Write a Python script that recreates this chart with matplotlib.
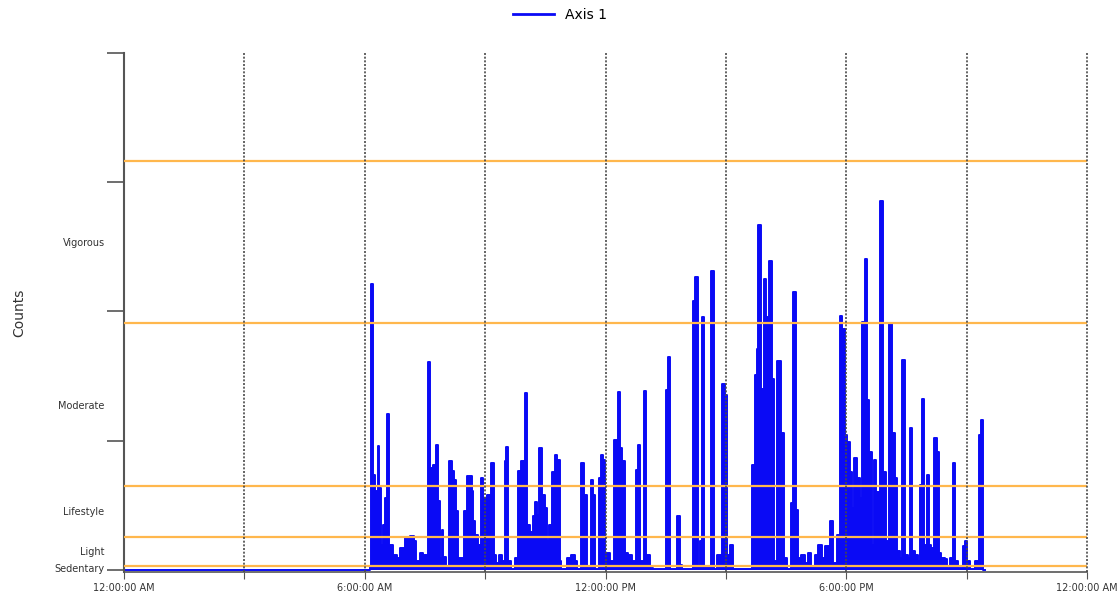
import numpy as np
import matplotlib.pyplot as plt
from matplotlib.lines import Line2D

# Epoch start times (minutes after midnight) and counts; each value holds until the next time
epoch_minutes = [
    0, 368, 369, 372, 375, 378, 380, 382, 384, 387,
    390, 393, 396, 402, 408, 413, 420, 428, 433, 437,
    443, 447, 454, 458, 462, 466, 469, 472, 475, 477,
    481, 486, 490, 493, 496, 500, 508, 513, 520, 522,
    525, 530, 534, 537, 541, 543, 549, 553, 556, 560,
    565, 569, 571, 574, 579, 585, 589, 593, 599, 603,
    607, 612, 615, 618, 621, 625, 629, 633, 636, 640,
    644, 648, 652, 654, 662, 668, 674, 677, 684, 688,
    692, 698, 701, 704, 711, 713, 717, 719, 726, 732,
    739, 742, 745, 749, 754, 759, 764, 765, 769, 772,
    777, 781, 786, 791, 810, 813, 816, 827, 831, 834,
    851, 854, 858, 861, 864, 868, 878, 882, 886, 894,
    898, 902, 906, 911, 939, 943, 946, 948, 952, 955,
    957, 960, 963, 965, 969, 972, 976, 983, 987, 991,
    997, 1000, 1005, 1008, 1012, 1018, 1023, 1027, 1033, 1038,
    1043, 1048, 1056, 1060, 1066, 1070, 1074, 1078, 1081, 1085,
    1089, 1091, 1096, 1100, 1103, 1108, 1111, 1114, 1118, 1121,
    1125, 1129, 1130, 1135, 1140, 1144, 1149, 1153, 1156, 1160,
    1164, 1168, 1172, 1175, 1179, 1183, 1188, 1190, 1193, 1197,
    1201, 1204, 1207, 1211, 1215, 1218, 1222, 1227, 1231, 1235,
    1239, 1242, 1247, 1255, 1258, 1261, 1265, 1272, 1278, 1281,
    1285, 1287,
]
counts = [
    0, 90, 6636, 2196, 1826, 578, 2867, 1896, 578, 1040,
    1665, 3614, 585, 354, 277, 508, 740, 786, 670, 200,
    400, 354, 4832, 2358, 2435, 2897, 1595, 277, 932, 300,
    50, 2520, 2300, 2081, 1357, 277, 1357, 2173, 1826, 1133,
    809, 578, 2127, 1665, 354, 1734, 2474, 354, 162, 354,
    200, 2520, 2844, 200, 20, 277, 2300, 2520, 4115, 1040,
    879, 1248, 1572, 1272, 2821, 1734, 1434, 670, 1040, 2265,
    2666, 2550, 200, 10, 277, 354, 200, 20, 2474, 1734,
    50, 2088, 1734, 20, 2127, 2666, 2550, 400, 200, 3013,
    4138, 2821, 2520, 400, 354, 200, 50, 2319, 2897, 200,
    4146, 354, 50, 10, 4169, 4940, 10, 1248, 123, 30,
    6249, 6790, 100, 663, 5880, 100, 6943, 30, 354, 4323,
    4053, 354, 585, 30, 2435, 4515, 5133, 8000, 4208, 3745,
    6751, 5865, 4000, 7174, 4439, 200, 4839, 3167, 270, 30,
    1549, 6443, 1395, 270, 354, 150, 393, 100, 354, 585,
    270, 547, 1125, 150, 817, 5904, 5595, 3128, 2975, 2282,
    1433, 2589, 2127, 1665, 5750, 7213, 3937, 2744, 585, 2551,
    1819, 585, 8562, 2282, 663, 5727, 3167, 2127, 439, 277,
    4862, 354, 277, 3283, 439, 354, 200, 1973, 3977, 578,
    2204, 578, 508, 3052, 2744, 400, 277, 250, 50, 277,
    2474, 200, 50, 547, 663, 200, 30, 200, 3128, 3475,
    0, 0,
]

# Intensity cut points (counts) and their names
cut_points = [100, 760, 1952, 5725, 9499]
intensity_names = ["Sedentary", "Light", "Lifestyle", "Moderate", "Vigorous"]

x_tick_labels = ["12:00:00 AM", "", "6:00:00 AM", "", "12:00:00 PM", "", "6:00:00 PM", "", "12:00:00 AM"]

fig = plt.figure(figsize=(11.2, 5.98), dpi=100)
ax = fig.add_axes([124 / 1120, 1 - 572 / 598, (1087 - 124) / 1120, (572 - 53) / 598])

blue = "#0a0af5"
ax.fill_between(epoch_minutes, counts, step="post", color=blue, lw=0, zorder=2)
ax.plot(epoch_minutes, counts, drawstyle="steps-post", color=blue, lw=1.4, zorder=2)

# cut point lines
for c in cut_points:
    ax.axhline(c, color="#ffb74d", lw=1.6, zorder=3)

# dotted vertical gridlines every 3 hours
for m in range(180, 1441, 180):
    ax.axvline(m, color="#4a4a4a", lw=1.2, linestyle=(0, (1.2, 1.0)), zorder=4, clip_on=False)

ax.set_xlim(0, 1440)
ax.set_ylim(-50, 12000)

ax.set_xticks(range(0, 1441, 180))
ax.set_xticklabels(x_tick_labels, fontsize=7, color="#333333")
ax.tick_params(axis="x", length=5, color="#555555", pad=3)

ax.set_yticks([0, 3000, 6000, 9000, 12000])
ax.set_yticklabels([])
ax.tick_params(axis="y", which="major", length=12, width=1.2, color="#555555")

bounds = [0] + cut_points
mids = [(bounds[i] + bounds[i + 1]) / 2 for i in range(len(intensity_names))]
ax.set_yticks(mids, minor=True)
ax.set_yticklabels(intensity_names, minor=True, fontsize=7, color="#333333")
ax.tick_params(axis="y", which="minor", length=0, pad=14)

for side in ["top", "right"]:
    ax.spines[side].set_visible(False)
ax.spines["left"].set_color("#555555")
ax.spines["left"].set_linewidth(1.5)
ax.spines["bottom"].set_color("#555555")
ax.spines["bottom"].set_linewidth(1.2)

ax.set_ylabel("Counts", fontsize=10, color="#333333")
ax.yaxis.set_label_coords(-0.102, 0.5)

handle = Line2D([], [], color=blue, lw=2)
fig.legend([handle], ["Axis 1"], loc="upper center", bbox_to_anchor=(0.5, 1.008),
           frameon=False, fontsize=10, handlelength=3)

fig.savefig("out.png", dpi=100)
